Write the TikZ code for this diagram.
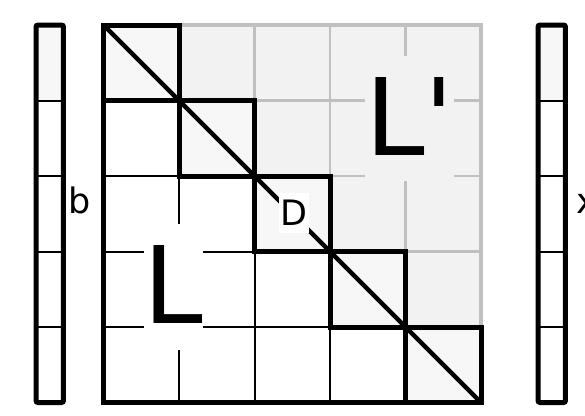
\documentclass[tikz,border=0pt]{standalone}
\usepackage{fontspec}
\setmainfont{DejaVu Sans}
\usetikzlibrary{positioning}
\definecolor{uppergrey}{HTML}{F2F2F2}
\definecolor{diaggrey}{HTML}{F7F7F7}
\definecolor{linegrey}{HTML}{C0C0C0}

\begin{document}
\begin{tikzpicture}[x=75.5pt, y=-75.5pt,
    thickline/.style={line width=5pt, black},
    thinline/.style={line width=2pt, black},
    greyline/.style={line width=2.5pt, linegrey},
    vecbox/.style={line width=5pt, rounded corners=2pt},
    bigletter/.style={font=\fontsize{107}{107}\selectfont, inner sep=0pt, text height=99.5pt, text depth=25.7pt, anchor=base west},
    smalltext/.style={font=\fontsize{35}{35}\selectfont, inner ysep=0pt, inner xsep=1.5pt, text height=32.5pt, text depth=8.4pt, anchor=base}]
    \useasboundingbox (-103.5pt,25pt) rectangle (481.5pt,-390pt);

    \coordinate (tl) at (0,0);
    \coordinate (br) at (5,5);

    % upper part and diagonal cells
    \fill[uppergrey] (1,0) -- (5,0) -- (5,4) -- (4,4) -- (4,3) -- (3,3) -- (3,2) -- (2,2) -- (2,1) -- (1,1) -- cycle;
    \foreach \i in {0,...,4}
        \fill[diaggrey] (\i,\i) rectangle ++(1,1);

    % grid of L'
    \foreach \k in {1,2,3}
        \draw[greyline] (\k+1,\k) -- (5,\k);
    \foreach \k in {2,3,4}
        \draw[greyline] (\k,0) -- (\k,\k-1);
    \draw[linegrey, line width=4.5pt] (1,0) -- (5,0) -- (5,4);

    % grid of L
    \foreach \k in {2,3,4}
        \draw[thinline] (0,\k) -- (\k-1,\k);
    \foreach \k in {1,2,3}
        \draw[thinline] (\k,\k+1) -- (\k,5);
    \draw[thickline] (tl) -- (0,5) -- (5,5) -- (5,4);

    % diagonal blocks
    \foreach \i in {0,...,4}
        \draw[thickline] (\i,\i) rectangle ++(1,1);
    \draw[line width=4.5pt] (tl) -- (br);

    % vectors
    \foreach \xl in {-0.894, 5.755} {
        \fill[diaggrey] (\xl,0) rectangle (\xl+0.364,1);
        \foreach \k in {1,...,4}
            \draw[thinline] (\xl,\k) -- (\xl+0.364,\k);
        \draw[vecbox] (\xl,0) rectangle (\xl+0.364,5);
    }

    \node[bigletter, fill=white] (lower) at (0.530,3.960) {L};
    \node[bigletter, fill=uppergrey] (upper) at (3.464,1.722) {L\textquotesingle};
    \node[smalltext, fill=white] (diag) at (2.517,2.649) {D};
    \node[smalltext] (rhs) at (-0.311,2.503) {b};
    \node[smalltext] (sol) at (6.396,2.503) {x};
\end{tikzpicture}
\end{document}
